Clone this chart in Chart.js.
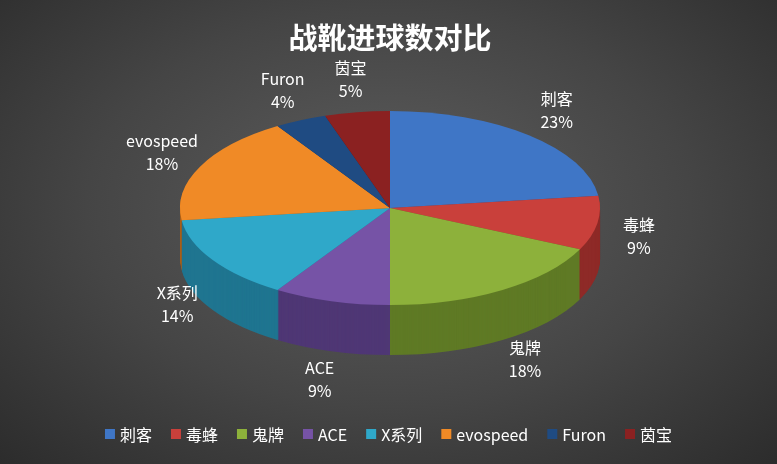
<!DOCTYPE html><html><head><meta charset="utf-8">
<script src="https://cdn.jsdelivr.net/npm/chart.js@4"></script>
<style>html,body{margin:0;padding:0;}body{width:777px;height:464px;background:radial-gradient(ellipse at 50% 45%,#5e5e5e 0%,#454545 55%,#2c2c2c 100%);}</style>
</head><body><canvas id="c" width="777" height="464"></canvas>
<script>
const categories=['刺客','毒蜂','鬼牌','ACE','X系列','evospeed','Furon','茵宝'];
const values=[23,9,18,9,14,18,4,5];
const colors=['#3f76c6','#c9403b','#8db13b','#7653a6','#2fa8c9','#f08a26','#1f4b82','#8b2121'];
const sideColors=['#2a5190','#8e2a27','#5f7a25','#4f3775','#1f7590','#a95f18','#143158','#5e1515'];
const title='战靴进球数对比';
const CX=390,CY=208,RX=210,RY=97,DEPTH=50;
const fontF='"Noto Sans CJK SC","Open Sans",sans-serif';
const p3d={id:'p3d',
 beforeDatasetsDraw(ch){const ctx=ch.ctx,m=ch.getDatasetMeta(0);
  const r=m.data[0].outerRadius,sx=RX/r,sy=RY/r;
  for(let d=DEPTH;d>0;d--){ctx.save();ctx.translate(CX,CY+d);ctx.scale(sx,sy);
   m.data.forEach((a,i)=>{ctx.beginPath();ctx.moveTo(0,0);ctx.arc(0,0,r,a.startAngle,a.endAngle);ctx.closePath();ctx.fillStyle=sideColors[i];ctx.fill();});
   ctx.restore();}
  const c=m.data[0];ctx.save();ctx.translate(CX,CY);ctx.scale(sx,sy);ctx.translate(-c.x,-c.y);},
 afterDatasetsDraw(ch){const ctx=ch.ctx;ctx.restore();const m=ch.getDatasetMeta(0);
  ctx.fillStyle='#fff';ctx.textAlign='center';ctx.textBaseline='middle';ctx.font='16px '+fontF;
  m.data.forEach((a,i)=>{const mid=(a.startAngle+a.endAngle)/2;
   let x=CX+Math.cos(mid)*RX*1.2,y=CY+Math.sin(mid)*RY*1.35;if(Math.sin(mid)>0)y+=DEPTH*0.95*Math.sin(mid);
   ctx.fillText(categories[i],x,y-11);ctx.fillText(values[i]+'%',x,y+12);});
  ctx.font='bold 29px '+fontF;ctx.fillText(title,CX,38);
  ctx.font='16px '+fontF;ctx.textAlign='left';
  let tot=0;const gaps=[];categories.forEach(c=>{const w=15+ctx.measureText(c).width;gaps.push(w);tot+=w;});tot+=19*(categories.length-1);
  let x=(777-tot)/2;categories.forEach((c,i)=>{ctx.fillStyle=colors[i];ctx.fillRect(x,429,10,10);ctx.fillStyle='#fff';ctx.fillText(c,x+15,435);x+=gaps[i]+19;});}
};
new Chart(document.getElementById('c'),{type:'pie',
 data:{labels:categories,datasets:[{data:values,backgroundColor:colors,borderWidth:0}]},
 options:{responsive:false,animation:false,layout:{padding:{left:290,right:287,top:110,bottom:154}},
  plugins:{legend:{display:false},tooltip:{enabled:false},title:{display:false}}},
 plugins:[p3d]});
</script></body></html>
